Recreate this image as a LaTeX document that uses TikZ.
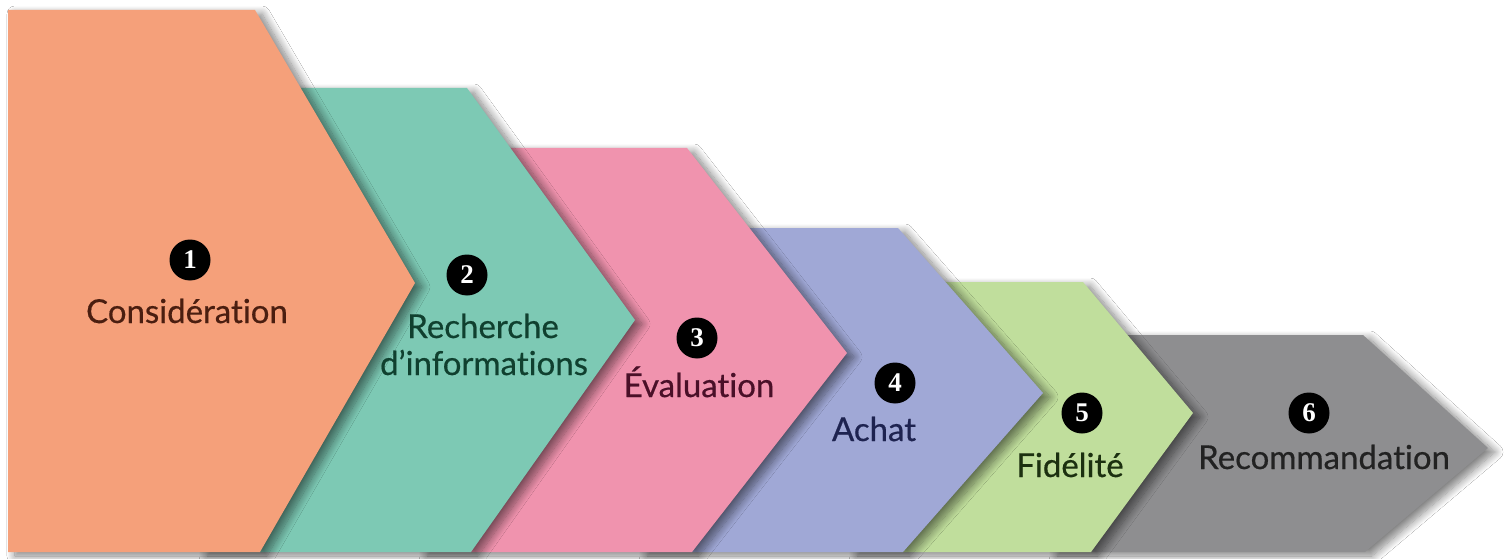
\documentclass[tikz,border=0pt]{standalone}
\usepackage{fontspec}
\setmainfont{Lato}[Ligatures=NoCommon, FakeBold=0.5]
\newfontfamily\digitfont{Liberation Serif}
\usetikzlibrary{shadows.blur}
\definecolor{c1}{HTML}{F5A07A}
\definecolor{c2}{HTML}{7DC9B4}
\definecolor{c3}{HTML}{F093AE}
\definecolor{c4}{HTML}{A0A8D6}
\definecolor{c5}{HTML}{C0DE9C}
\definecolor{c6}{HTML}{8E8E90}
\definecolor{t1}{HTML}{4A1E10}
\definecolor{t2}{HTML}{10402F}
\definecolor{t3}{HTML}{4A1028}
\definecolor{t4}{HTML}{1E2350}
\definecolor{t5}{HTML}{1C3010}
\definecolor{t6}{HTML}{222222}
\begin{document}
\begin{tikzpicture}[x=1pt,y=-1pt,
  chev/.style={blur shadow={shadow xshift=7pt, shadow yshift=-4pt, shadow blur radius=8pt, shadow opacity=50, shadow blur steps=12}},
  num/.style={circle, fill=black, inner sep=0pt, minimum size=41pt, text=white, font=\digitfont\bfseries\fontsize{27}{27}\selectfont},
  lab/.style={anchor=base, inner sep=0pt, font=\fontsize{33}{37}\selectfont}]
\fill[white] (0,0) rectangle (1507,559);
\useasboundingbox (0,0) rectangle (1507,559);
% chevrons, back to front
\path[chev, fill=c6] (1050,335) -- (1363,335) -- (1488,448) -- (1365,552) -- (1050,552) -- cycle;
\path[chev, fill=c5] (850,282) -- (1083,282) -- (1193,413) -- (1091,552) -- (850,552) -- cycle;
\path[chev, fill=c4] (640,228) -- (898,228) -- (1043,393) -- (903,552) -- (640,552) -- cycle;
\path[chev, fill=c3] (420,148) -- (687,148) -- (847,353) -- (692,552) -- (420,552) -- cycle;
\path[chev, fill=c2] (200,88) -- (467,88) -- (635,320) -- (471,552) -- (200,552) -- cycle;
\path[chev, fill=c1] (8,10) -- (255,10) -- (415,283) -- (260,552) -- (8,552) -- cycle;
% numbers
\node[num] (n1) at (190,260) {1};
\node[num] (n2) at (467,275) {2};
\node[num] (n3) at (697,338) {3};
\node[num] (n4) at (895,383) {4};
\node[num] (n5) at (1082,413) {5};
\node[num] (n6) at (1309,413) {6};
% labels
\node[lab, text=t1] (l1) at (187,323) {Considération};
\node[lab, text=t2] (l2a) at (483,338) {Recherche};
\node[lab, text=t2] (l2b) at (484,375) {d’informations};
\node[lab, text=t3] (l3) at (699,397) {Évaluation};
\node[lab, text=t4] (l4) at (874,441) {Achat};
\node[lab, text=t5] (l5) at (1070,477) {Fidélité};
\node[lab, text=t6] (l6) at (1324,469) {Recommandation};
\end{tikzpicture}
\end{document}
